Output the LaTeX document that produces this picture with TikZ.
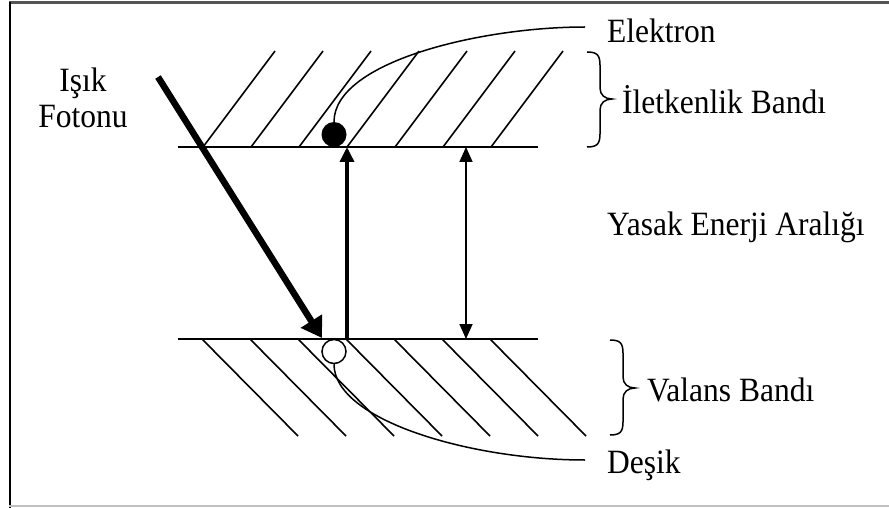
\documentclass[tikz,border=0pt]{standalone}
\usepackage{fontspec}
\setmainfont{Liberation Serif}
\usetikzlibrary{arrows.meta}
\newcommand{\tallt}[1]{\scalebox{1}[1.08]{#1}}
\begin{document}
\begin{tikzpicture}[x=1pt,y=-1pt,
  lbl/.style={font=\fontsize{31.5}{36}\selectfont, inner sep=0pt, anchor=base west},
  lblc/.style={font=\fontsize{31.5}{36}\selectfont, inner sep=0pt, anchor=base},
  bandline/.style={line width=1.9pt},
  hatch/.style={line width=1.6pt},
  lead/.style={line width=1.5pt},
  bracepath/.style={line width=1.5pt},
  photon/.style={line width=6.5pt, -{Triangle[length=20pt,width=24pt]}},
  excite/.style={line width=3.5pt, -{Triangle[length=15pt,width=14pt]}},
  gap/.style={line width=1.7pt, {Triangle[length=15pt,width=13pt]}-{Triangle[length=15pt,width=13pt]}}
]
\useasboundingbox (0,0) rectangle (889,508);
% frame
\draw[line width=3pt, color=black!67] (9,3) -- (889,3);
\draw[line width=2pt] (9.5,2) -- (9.5,508);
\draw[line width=2pt, color=black!25] (9,505.5) -- (889,505.5);

% band edges
\coordinate (cbL) at (178,147);
\coordinate (cbR) at (538,147);
\coordinate (vbL) at (178,339);
\coordinate (vbR) at (538,339);
\draw[bandline] (cbL) -- (cbR);
\draw[bandline] (vbL) -- (vbR);

% hatching
\foreach \k in {0,...,6} {
  \draw[hatch] (203+48*\k,147) -- (275+48*\k,51);
  \draw[hatch] (202+48*\k,339) -- (298+48*\k,436);
}

% electron and hole
\node[circle, fill=black, minimum size=25pt, inner sep=0pt] (el) at (334,134.5) {};
\node[circle, draw=black, fill=white, line width=1.5pt, minimum size=24pt, inner sep=0pt] (ho) at (334,351.5) {};

% labels
\node[lbl] (elek) at (607,43) {\tallt{Elektron}};
\node[lbl] (ilet) at (622,114) {\tallt{İletkenlik Bandı}};
\node[lbl] (yasak) at (607,235) {\tallt{Yasak Enerji Aralığı}};
\node[lbl] (val) at (647,401) {\tallt{Valans Bandı}};
\node[lbl] (desik) at (607,473) {\tallt{Deşik}};
\node[lblc] (isik) at (83,92) {\tallt{Işık}};
\node[lblc] (foton) at (83,128) {\tallt{Fotonu}};

% leader curves
\coordinate (elend) at (585,27);
\coordinate (hoend) at (585,460);
\draw[lead] (el.north) .. controls (334,62) and (480,27) .. (elend);
\draw[lead] (ho.south) .. controls (334,420) and (470,460) .. (hoend);

% braces
\draw[bracepath] (587,52) .. controls (597,52) and (600,55) .. (600,65) -- (600,88)
  .. controls (600,95) and (605,99) .. (612,99)
  .. controls (605,99) and (600,103) .. (600,110) -- (600,134)
  .. controls (600,144) and (597,147) .. (587,147);
\draw[bracepath] (610,340) .. controls (620,340) and (623,343) .. (623,353) -- (623,377)
  .. controls (623,384) and (628,388) .. (635,388)
  .. controls (628,388) and (623,392) .. (623,399) -- (623,422)
  .. controls (623,432) and (620,435) .. (610,435);

% arrows
\coordinate (phS) at (158,77);
\coordinate (phE) at (322,338);
\draw[photon] (phS) -- (phE);
\coordinate (exB) at (347,339);
\coordinate (exT) at (347,147);
\draw[excite] (exB) -- (exT);
\coordinate (gapT) at (466,147);
\coordinate (gapB) at (466,339);
\draw[gap] (gapB) -- (gapT);
\end{tikzpicture}
\end{document}
